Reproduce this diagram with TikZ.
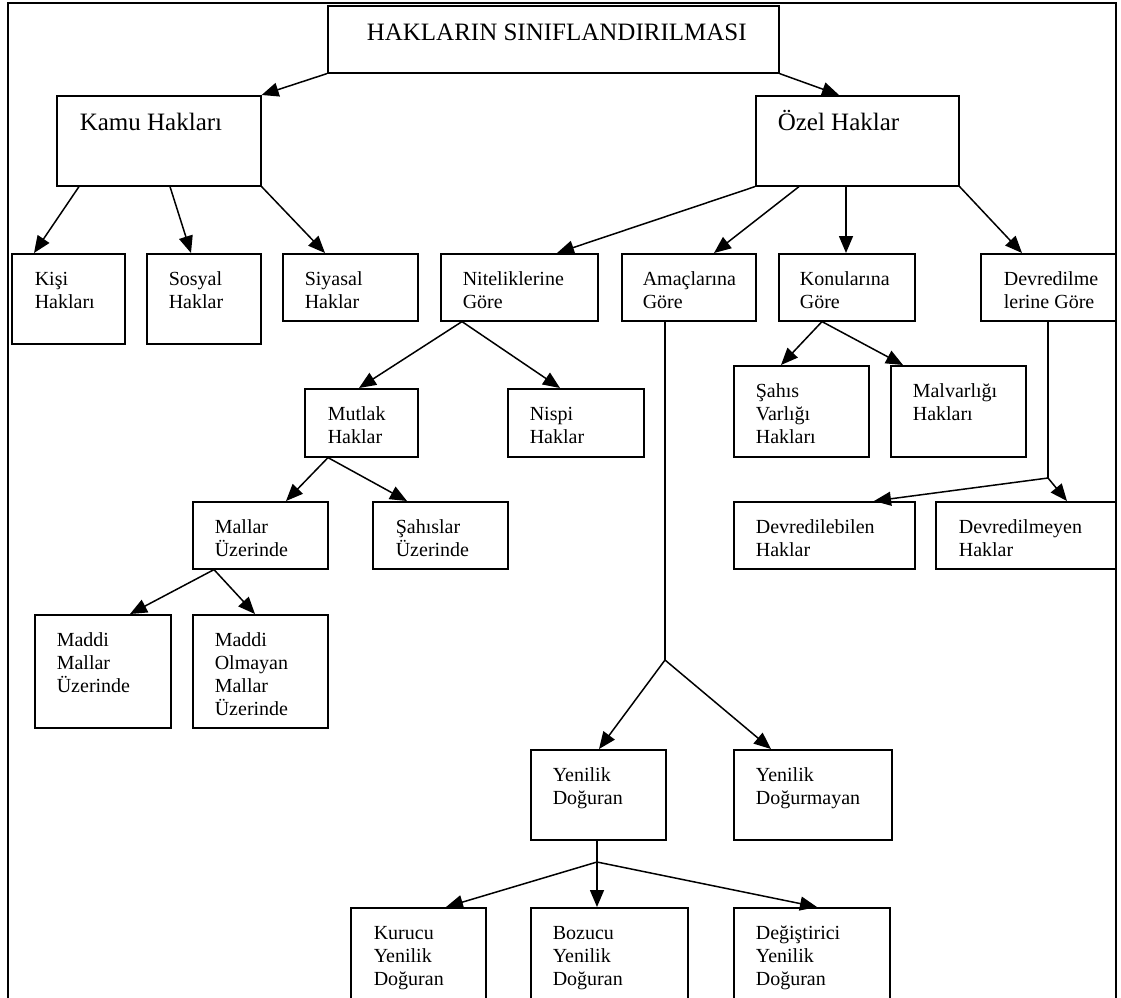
\documentclass[tikz,border=0pt]{standalone}
\usepackage{fontspec}
\setmainfont{Liberation Serif}
\usetikzlibrary{arrows.meta}
\newcommand\boxtxt[5]{\begin{minipage}[t][#2pt][t]{#1pt}\raggedright\leftskip=#3pt\relax\rule{0pt}{#4pt}#5\end{minipage}}
\begin{document}
\begin{tikzpicture}[x=1pt,y=-1pt,
  box/.style={draw, line width=1.6pt, inner sep=0pt, anchor=north west, font=\fontsize{20}{23}\selectfont},
  bigbox/.style={box, font=\fontsize{25}{29}\selectfont},
  arr/.style={-{Triangle[length=17pt,width=14pt]}, line width=1.5pt},
  ln/.style={line width=1.5pt}]
\useasboundingbox (0,0) rectangle (1121,997);
\clip (0,0) rectangle (1121,997);
\draw[line width=2pt] (8,1000) -- (8,3) -- (1116,3) -- (1116,1000);
% top level
\node[bigbox] (title) at (327,5) {\boxtxt{451}{67}{39}{35}{HAKLARIN SINIFLANDIRILMASI}};
\node[bigbox] (kamu) at (56,95) {\boxtxt{204}{90}{23}{35}{Kamu Hakları}};
\node[bigbox] (ozel) at (755,95) {\boxtxt{203}{90}{22}{35}{Özel Haklar}};
% second row
\node[box] (kisi) at (11,253) {\boxtxt{113}{90}{23}{32}{Kişi\\Hakları}};
\node[box] (sosyal) at (146,253) {\boxtxt{114}{90}{22}{32}{Sosyal\\Haklar}};
\node[box] (siyasal) at (282,253) {\boxtxt{135}{67}{22}{32}{Siyasal\\Haklar}};
\node[box] (nitel) at (440,253) {\boxtxt{157}{67}{22}{32}{Niteliklerine\\Göre}};
\node[box] (amac) at (621,253) {\boxtxt{134}{67}{21}{32}{Amaçlarına\\Göre}};
\node[box] (konu) at (778,253) {\boxtxt{136}{67}{21}{32}{Konularına\\Göre}};
\node[box] (devr) at (980,253) {\boxtxt{135}{67}{23}{32}{Devredilme\\lerine Göre}};
% third
\node[box] (mutlak) at (304,388) {\boxtxt{113}{68}{23}{32}{Mutlak\\Haklar}};
\node[box] (nispi) at (507,388) {\boxtxt{136}{68}{22}{32}{Nispi\\Haklar}};
\node[box] (sahisv) at (733,365) {\boxtxt{135}{91}{22}{32}{Şahıs\\Varlığı\\Hakları}};
\node[box] (malv) at (890,365) {\boxtxt{135}{91}{22}{32}{Malvarlığı\\Hakları}};
\node[box] (mallar) at (192,501) {\boxtxt{135}{67}{22}{32}{Mallar\\Üzerinde}};
\node[box] (sahislar) at (372,501) {\boxtxt{135}{67}{23}{32}{Şahıslar\\Üzerinde}};
\node[box] (devbil) at (733,501) {\boxtxt{181}{67}{22}{32}{Devredilebilen\\Haklar}};
\node[box] (devmey) at (935,501) {\boxtxt{180}{67}{23}{32}{Devredilmeyen\\Haklar}};
\node[box] (maddi) at (34,614) {\boxtxt{136}{113}{22}{32}{Maddi\\Mallar\\Üzerinde}};
\node[box] (maddiol) at (192,614) {\boxtxt{135}{113}{22}{32}{Maddi\\Olmayan\\Mallar\\Üzerinde}};
\node[box] (yd) at (530,749) {\boxtxt{135}{90}{22}{32}{Yenilik\\Doğuran}};
\node[box] (ydm) at (733,749) {\boxtxt{158}{90}{22}{32}{Yenilik\\Doğurmayan}};
\node[box] (kur) at (350,907) {\boxtxt{135}{100}{23}{32}{Kurucu\\Yenilik\\Doğuran}};
\node[box] (boz) at (530,907) {\boxtxt{157}{100}{22}{32}{Bozucu\\Yenilik\\Doğuran}};
\node[box] (deg) at (733,907) {\boxtxt{156}{100}{22}{32}{Değiştirici\\Yenilik\\Doğuran}};
% junctions
\coordinate (jd) at (1048,478);
\coordinate (ja) at (665,660);
\coordinate (jy) at (597,862);
% connectors
\draw[arr] (title.south west) -- (kamu.north east);
\draw[arr] (title.south east) -- ([xshift=84pt]ozel.north west);
\draw[arr] ([xshift=23pt]kamu.south west) -- ([xshift=23pt]kisi.north west);
\draw[arr] ([xshift=114pt]kamu.south west) -- ([xshift=45pt]sosyal.north west);
\draw[arr] (kamu.south east) -- ([xshift=43pt]siyasal.north west);
\draw[arr] (ozel.south west) -- ([xshift=117pt]nitel.north west);
\draw[arr] ([xshift=44pt]ozel.south west) -- ([xshift=93pt]amac.north west);
\draw[arr] ([xshift=91pt]ozel.south west) -- ([xshift=68pt]konu.north west);
\draw[arr] (ozel.south east) -- ([xshift=42pt]devr.north west);
\draw[arr] ([xshift=22pt]nitel.south west) -- ([xshift=55pt]mutlak.north west);
\draw[arr] ([xshift=22pt]nitel.south west) -- ([xshift=53pt]nispi.north west);
\draw[arr] ([xshift=24pt]mutlak.south west) -- ([xshift=94pt]mallar.north west);
\draw[arr] ([xshift=24pt]mutlak.south west) -- ([xshift=35pt]sahislar.north west);
\draw[arr] ([xshift=22pt]mallar.south west) -- ([xshift=96pt]maddi.north west);
\draw[arr] ([xshift=22pt]mallar.south west) -- ([xshift=63pt]maddiol.north west);
\draw[arr] ([xshift=44pt]konu.south west) -- ([xshift=48pt]sahisv.north west);
\draw[arr] ([xshift=44pt]konu.south west) -- ([xshift=13pt]malv.north west);
\draw[ln] ([xshift=68pt]devr.south west) -- (jd);
\draw[arr] (jd) -- ([xshift=141pt]devbil.north west);
\draw[arr] (jd) -- ([xshift=132pt]devmey.north west);
\draw[ln] ([xshift=44pt]amac.south west) -- (ja);
\draw[arr] (ja) -- ([xshift=69pt]yd.north west);
\draw[arr] (ja) -- ([xshift=38pt]ydm.north west);
\draw[ln] ([xshift=67pt]yd.south west) -- (jy);
\draw[arr] (jy) -- ([xshift=96pt]kur.north west);
\draw[arr] (jy) -- ([xshift=67pt]boz.north west);
\draw[arr] (jy) -- ([xshift=84pt]deg.north west);
\end{tikzpicture}
\end{document}
